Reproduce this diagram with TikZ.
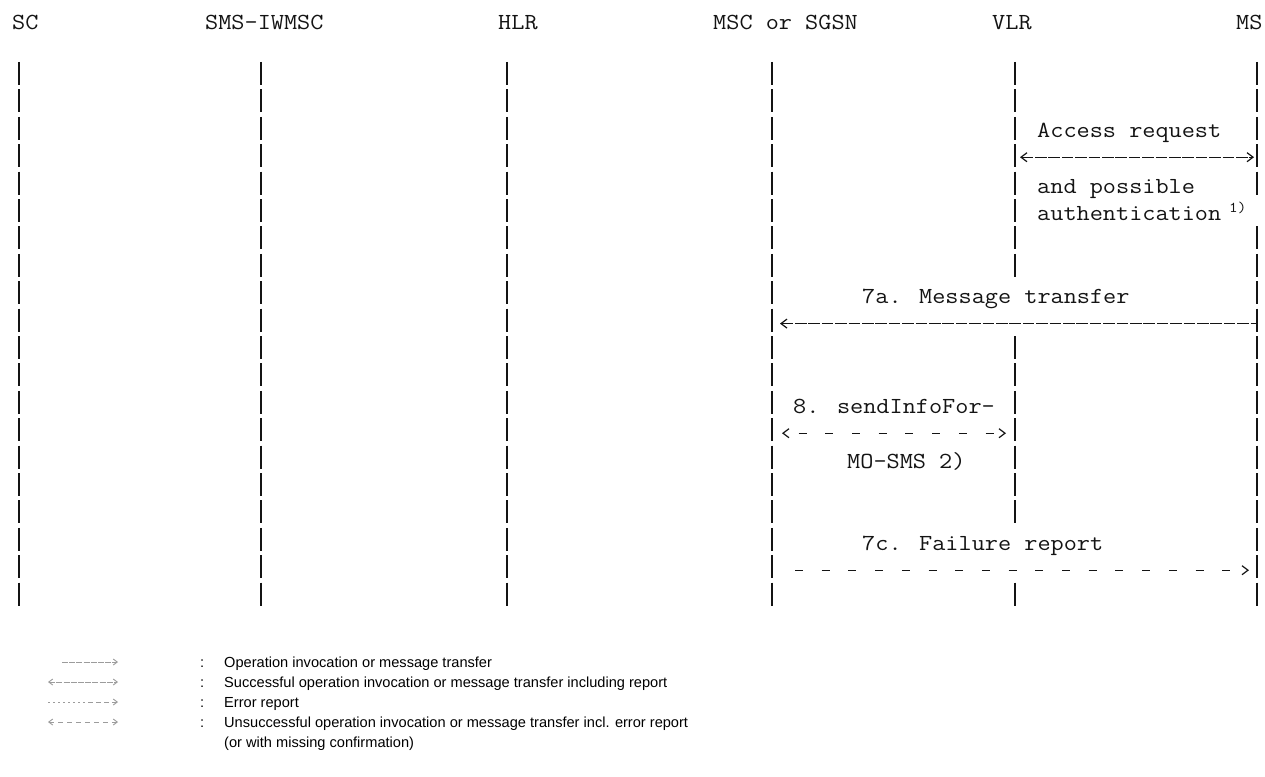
\documentclass[tikz,border=0pt]{standalone}
\usepackage{fontspec}
\newfontfamily\legendfont{Liberation Sans}
\usetikzlibrary{arrows.meta}
\definecolor{ink}{HTML}{141414}
\definecolor{leggray}{HTML}{9C9C9C}
\newcommand\asc[1]{\scalebox{1.11}[1]{\fontsize{23}{27}\selectfont\ttfamily #1}}
\newcommand\ascsmall[1]{\scalebox{1.11}[1]{\fontsize{15}{18}\selectfont\ttfamily #1}}
\newcommand\ymid[1]{73.5+27.4*(#1-2)}
\newcommand\ybase[1]{84.5+27.4*(#1-2)}
\newcommand\yarr[1]{77+27.4*(#1-2)}
\begin{document}
\begin{tikzpicture}[x=1pt,y=-1pt,
  txt/.style={inner sep=0pt, anchor=base west, text=ink},
  legtxt/.style={inner sep=0pt, anchor=base west, text=black, font=\legendfont\fontsize{14.6}{17}\selectfont},
  bar/.style={draw=ink, line width=1.7pt},
  chev/.tip={Straight Barb[length=6pt,width=9pt,line width=1.2pt]},
  lchev/.tip={Straight Barb[length=4pt,width=6pt,line width=0.9pt]},
  solidmsg/.style={draw=ink, line width=1.4pt, dash pattern=on 11.6pt off 1.8pt},
  dashmsg/.style={draw=ink, line width=1.4pt, dash pattern=on 8pt off 18.7pt},
  legline/.style={draw=leggray, line width=0.9pt}
]
\fill[white] (0,0) rectangle (1265,776);
\useasboundingbox (0,0) rectangle (1265,776);

% headers
\node[txt] (sc)   at (12,30)  {\asc{SC}};
\node[txt] (iw)   at (205,30) {\asc{SMS-IWMSC}};
\node[txt] (hlr)  at (498,30) {\asc{HLR}};
\node[txt] (msc)  at (713,30) {\asc{MSC or SGSN}};
\node[txt] (vlr)  at (992,30) {\asc{VLR}};
\node[txt] (ms)   at (1236,30) {\asc{MS}};

% lifelines
\foreach \lx in {19,261,507,772}{
  \foreach \r in {2,...,21}
    \draw[bar] (\lx,{\ymid{\r}-11.5}) -- ++(0,23);
}
\foreach \r in {2,...,9,12,13,...,18,21}
  \draw[bar] (1015,{\ymid{\r}-11.5}) -- ++(0,23);
\foreach \r in {2,...,6,8,9,...,21}
  \draw[bar] (1257,{\ymid{\r}-11.5}) -- ++(0,23);

% labels
\node[txt] (acc)  at (1037,{\ybase{4}-2})  {\asc{Access request}};
\node[txt] (and)  at (1037,{\ybase{6}-1})  {\asc{and possible}};
\node[txt] (auth) at (1037,{\ybase{7}-1})  {\asc{authentication}};
\node[txt] (n1)   at (1229,{\ybase{7}-9}) {\ascsmall{1)}};
\node[txt] (m7a)  at (862,{\ybase{10}})  {\asc{7a. Message transfer}};
\node[txt] (m8)   at (793,{\ybase{14}})  {\asc{8. sendInfoFor-}};
\node[txt] (m8b)  at (847,{\ybase{16}})  {\asc{MO-SMS 2)}};
\node[txt] (m7c)  at (862,{\ybase{19}})  {\asc{7c. Failure report}};

% message connectors
\coordinate (a5l) at (1020,{\yarr{5}-2});
\coordinate (a5r) at (1254,{\yarr{5}-2});
\coordinate (a11l) at (780,{\yarr{11}});
\coordinate (a11r) at (1256,{\yarr{11}});
\coordinate (a15l) at (782,{\yarr{15}});
\coordinate (a15r) at (1006,{\yarr{15}});
\coordinate (a20l) at (795,{\yarr{20}});
\coordinate (a20r) at (1249,{\yarr{20}});

\draw[solidmsg, {chev}-{chev}] (a5l) -- (a5r);
\draw[solidmsg, {chev}-] (a11l) -- (a11r);
\draw[dashmsg, dash phase=11.7pt, {chev}-{chev}] (a15l) -- (a15r);
\draw[dashmsg, -{chev}] (a20l) -- (a20r);

% legend
\coordinate (l1a) at (62,662);  \coordinate (l1b) at (118,662);
\coordinate (l2a) at (48,682);  \coordinate (l2b) at (118,682);
\coordinate (l3a) at (48,702);  \coordinate (l3m) at (88,702); \coordinate (l3b) at (118,702);
\coordinate (l4a) at (48,722);  \coordinate (l4b) at (118,722);
\draw[legline, dash pattern=on 6pt off 1.2pt, -{lchev}] (l1a) -- (l1b);
\draw[legline, dash pattern=on 6pt off 1.2pt, {lchev}-{lchev}] (l2a) -- (l2b);
\draw[legline, dash pattern=on 2pt off 3pt] (l3a) -- (l3m);
\draw[legline, dash pattern=on 5pt off 3pt, -{lchev}] (l3m) -- (l3b);
\draw[legline, dash pattern=on 5pt off 4pt, {lchev}-{lchev}] (l4a) -- (l4b);

\node[legtxt] (c1) at (200,667) {:};
\node[legtxt] (c2) at (200,687) {:};
\node[legtxt] (c3) at (200,707) {:};
\node[legtxt] (c4) at (200,727) {:};
\node[legtxt] (t1) at (224,667) {Operation invocation or message transfer};
\node[legtxt] (t2) at (224,687) {Successful operation invocation or message transfer including report};
\node[legtxt] (t3) at (224,707) {Error report};
\node[legtxt] (t4) at (224,727) {Unsuccessful operation invocation or message transfer incl. error report};
\node[legtxt] (t5) at (224,747) {(or with missing confirmation)};
\end{tikzpicture}
\end{document}
